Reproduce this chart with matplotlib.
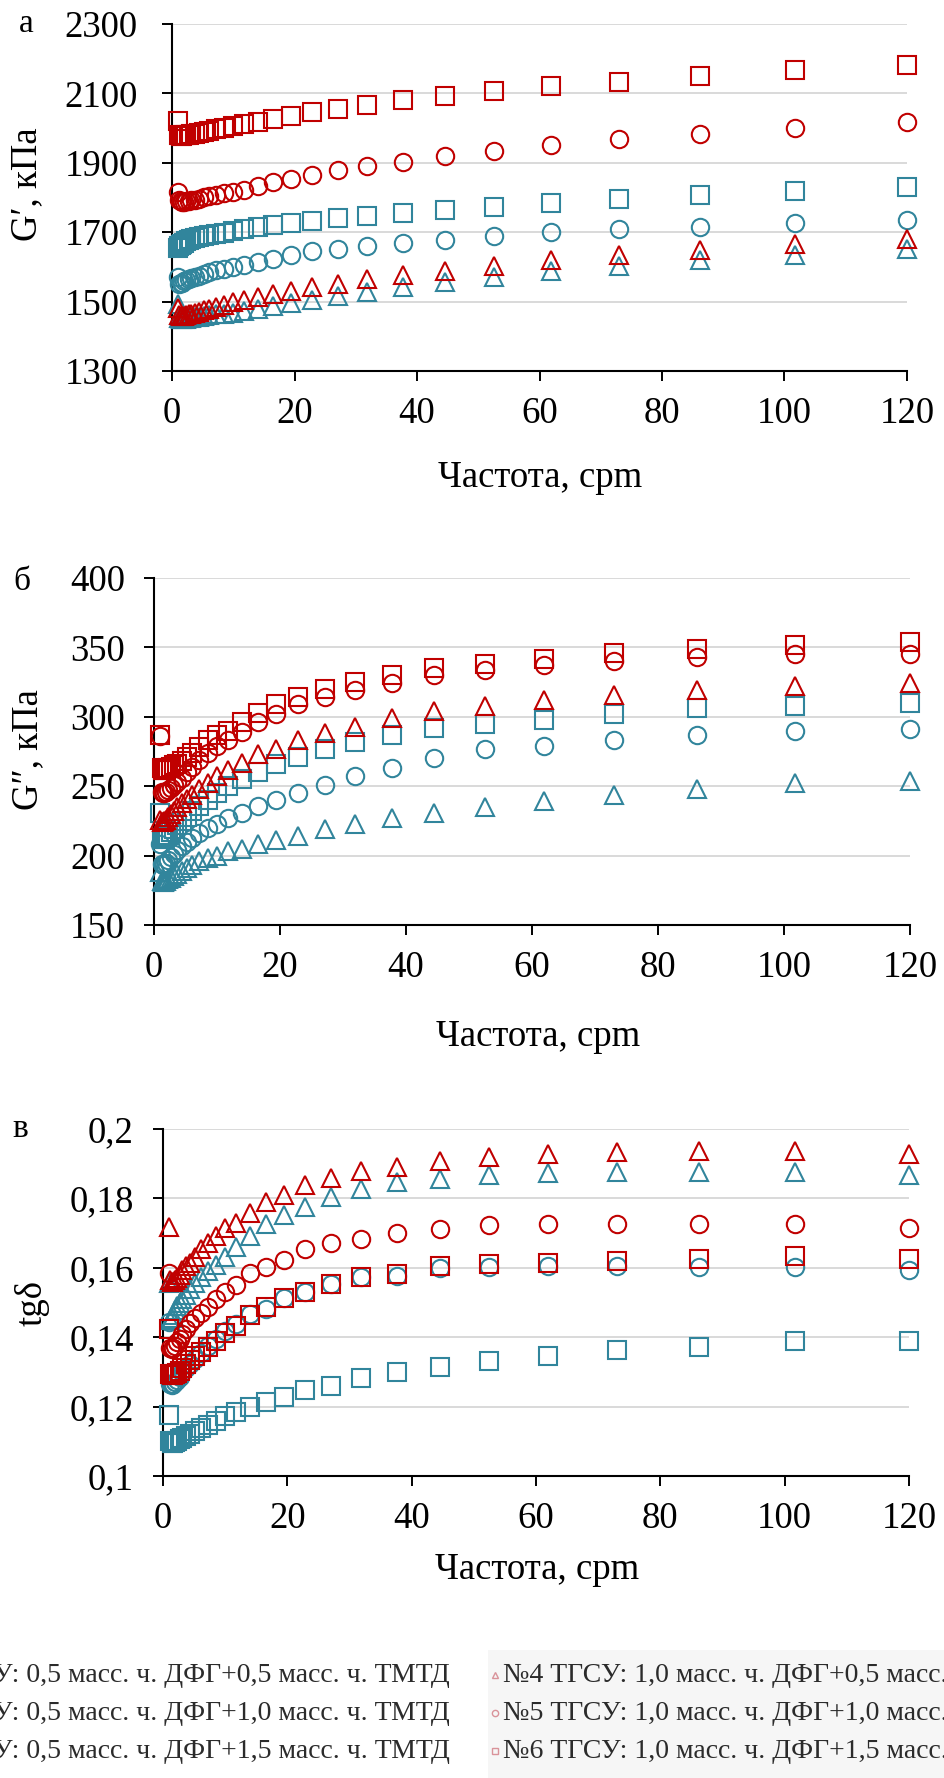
import matplotlib
matplotlib.use("Agg")
import matplotlib.pyplot as plt
from matplotlib.ticker import FuncFormatter

plt.rcParams['font.family'] = ['Liberation Serif', 'DejaVu Serif']

# Frequency sweep points, cpm
freq = [1.0, 1.2, 1.4, 1.6, 1.9, 2.3, 2.7, 3.1, 3.7, 4.4, 5.2, 6.1, 7.2, 8.5, 10.0,
        11.8, 14.0, 16.5, 19.4, 22.9, 27.1, 31.9, 37.7, 44.5, 52.5, 61.9, 73.0, 86.2, 101.7, 120.0]

# Storage modulus G', kPa
gp_1 = [1492, 1452, 1450, 1450, 1450, 1451, 1452, 1453, 1455, 1457, 1459, 1461, 1463, 1465, 1468,
        1473, 1480, 1487, 1495, 1506, 1516, 1528, 1543, 1557, 1570, 1588, 1604, 1620, 1635, 1651]
gp_2 = [1570, 1552, 1553, 1555, 1558, 1561, 1564, 1567, 1571, 1575, 1580, 1585, 1590, 1595, 1599,
        1606, 1615, 1623, 1633, 1645, 1653, 1661, 1668, 1677, 1688, 1701, 1709, 1716, 1727, 1736]
gp_3 = [1655, 1660, 1664, 1667, 1670, 1674, 1677, 1680, 1683, 1687, 1690, 1693, 1696, 1699, 1703,
        1709, 1716, 1721, 1727, 1733, 1740, 1747, 1755, 1764, 1774, 1785, 1796, 1807, 1819, 1830]
gp_4 = [1482, 1460, 1458, 1458, 1459, 1461, 1463, 1465, 1468, 1471, 1475, 1480, 1485, 1491, 1498,
        1506, 1514, 1522, 1531, 1541, 1551, 1564, 1576, 1589, 1602, 1619, 1633, 1650, 1667, 1681]
gp_5 = [1815, 1792, 1789, 1788, 1788, 1789, 1790, 1792, 1794, 1797, 1800, 1803, 1807, 1812, 1817,
        1823, 1834, 1844, 1852, 1865, 1878, 1890, 1903, 1919, 1934, 1951, 1968, 1984, 2001, 2017]
gp_6 = [2020, 1980, 1978, 1978, 1979, 1980, 1981, 1982, 1984, 1986, 1989, 1992, 1996, 2000, 2005,
        2011, 2018, 2027, 2035, 2045, 2056, 2067, 2080, 2092, 2107, 2120, 2134, 2150, 2166, 2182]

# Loss modulus G'', kPa
gpp_1 = [188, 182, 181, 181, 182, 183, 184, 185, 187, 189, 191, 193, 196, 198, 200,
         203, 205, 208, 211, 214, 219, 223, 227, 231, 235, 239, 244, 248, 252, 254]
gpp_2 = [208, 194, 193, 194, 195, 197, 199, 201, 204, 207, 210, 213, 216, 220, 223,
         227, 231, 236, 240, 245, 251, 257, 263, 270, 277, 279, 283, 287, 290, 291]
gpp_3 = [231, 212, 212, 213, 214, 215, 217, 219, 222, 225, 228, 232, 236, 240, 245,
         250, 255, 260, 266, 271, 277, 282, 287, 292, 295, 298, 302, 306, 308, 310]
gpp_4 = [226, 224, 224, 225, 226, 228, 230, 232, 235, 238, 241, 244, 248, 252, 257,
         262, 267, 273, 277, 283, 288, 293, 299, 304, 308, 312, 316, 319, 322, 324]
gpp_5 = [286, 246, 245, 245, 246, 247, 249, 251, 253, 256, 260, 264, 269, 274, 279,
         283, 289, 296, 302, 309, 314, 319, 324, 330, 334, 337, 340, 343, 345, 345]
gpp_6 = [287, 263, 262, 262, 262, 263, 264, 265, 266, 268, 271, 274, 278, 283, 287,
         290, 296, 303, 309, 314, 320, 325, 330, 335, 338, 342, 346, 349, 352, 354]

# Loss tangent tg delta
tan_1 = [0.1555, 0.1450, 0.1455, 0.1465, 0.1478, 0.1490, 0.1500, 0.1510, 0.1522, 0.1538,
         0.1555, 0.1573, 0.1590, 0.1607, 0.1630, 0.1660, 0.1692, 0.1725, 0.1752, 0.1776,
         0.1803, 0.1826, 0.1846, 0.1856, 0.1866, 0.1873, 0.1876, 0.1876, 0.1876, 0.1866]
tan_2 = [0.1444, 0.1265, 0.1262, 0.1265, 0.1270, 0.1278, 0.1286, 0.1300, 0.1310, 0.1324,
         0.1338, 0.1355, 0.1375, 0.1395, 0.1418, 0.1439, 0.1468, 0.1482, 0.1512, 0.1531,
         0.1553, 0.1574, 0.1577, 0.1598, 0.1603, 0.1605, 0.1605, 0.1603, 0.1602, 0.1595]
tan_3 = [0.1175, 0.1100, 0.1095, 0.1095, 0.1098, 0.1102, 0.1106, 0.1110, 0.1115, 0.1122,
         0.1130, 0.1137, 0.1146, 0.1158, 0.1172, 0.1185, 0.1199, 0.1213, 0.1228, 0.1249,
         0.1259, 0.1282, 0.1300, 0.1315, 0.1332, 0.1345, 0.1362, 0.1372, 0.1390, 0.1390]
tan_4 = [0.1718, 0.1565, 0.1560, 0.1560, 0.1565, 0.1572, 0.1580, 0.1593, 0.1605, 0.1615,
         0.1632, 0.1655, 0.1672, 0.1692, 0.1715, 0.1728, 0.1759, 0.1790, 0.1810, 0.1838,
         0.1858, 0.1879, 0.1891, 0.1909, 0.1920, 0.1928, 0.1935, 0.1936, 0.1936, 0.1928]
tan_5 = [0.1584, 0.1370, 0.1365, 0.1368, 0.1375, 0.1385, 0.1395, 0.1410, 0.1425, 0.1440,
         0.1455, 0.1470, 0.1488, 0.1510, 0.1530, 0.1550, 0.1584, 0.1603, 0.1622, 0.1653,
         0.1672, 0.1682, 0.1701, 0.1712, 0.1723, 0.1725, 0.1725, 0.1725, 0.1725, 0.1715]
tan_6 = [0.1425, 0.1295, 0.1290, 0.1290, 0.1293, 0.1298, 0.1304, 0.1312, 0.1322, 0.1334,
         0.1345, 0.1358, 0.1372, 0.1390, 0.1412, 0.1432, 0.1463, 0.1488, 0.1512, 0.1531,
         0.1552, 0.1574, 0.1582, 0.1606, 0.1611, 0.1615, 0.1620, 0.1625, 0.1633, 0.1625]

series_labels = [
    "№1 ТГСУ: 0,5 масс. ч. ДФГ+0,5 масс. ч. ТМТД",
    "№2 ТГСУ: 0,5 масс. ч. ДФГ+1,0 масс. ч. ТМТД",
    "№3 ТГСУ: 0,5 масс. ч. ДФГ+1,5 масс. ч. ТМТД",
    "№4 ТГСУ: 1,0 масс. ч. ДФГ+0,5 масс. ч. ТМТД",
    "№5 ТГСУ: 1,0 масс. ч. ДФГ+1,0 масс. ч. ТМТД",
    "№6 ТГСУ: 1,0 масс. ч. ДФГ+1,5 масс. ч. ТМТД",
]

x_ticks = [0, 20, 40, 60, 80, 100, 120]
x_label = "Частота, cpm"

BLUE = "#31859C"
RED = "#C00000"
colors = [BLUE, BLUE, BLUE, RED, RED, RED]
markers = ["^", "o", "s", "^", "o", "s"]

W, H = 944, 1778
fig = plt.figure(figsize=(W / 100, H / 100), dpi=100)


def fx(px):
    return px / W


def fy(py):
    return 1 - py / H


def make_axes(left, top, right, bottom):
    return fig.add_axes([fx(left), fy(bottom), (right - left) / W, (bottom - top) / H])


panels = [
    dict(box=(172, 24, 907, 371), data=[gp_1, gp_2, gp_3, gp_4, gp_5, gp_6],
         ylim=(1300, 2300), yticks=[1300, 1500, 1700, 1900, 2100, 2300],
         fmt=lambda v, p: f"{v:.0f}", ypad=17, tag="а", tag_xy=(26, 24),
         ylabel="G′, кПа", ylabel_xy=(27, 184), xlabel_xy=(540, 478)),
    dict(box=(154, 578, 910, 925), data=[gpp_1, gpp_2, gpp_3, gpp_4, gpp_5, gpp_6],
         ylim=(150, 400), yticks=[150, 200, 250, 300, 350, 400],
         fmt=lambda v, p: f"{v:.0f}", ypad=13.5, tag="б", tag_xy=(22, 582),
         ylabel="G″, кПа", ylabel_xy=(28, 750), xlabel_xy=(538, 1037)),
    dict(box=(163, 1129, 909, 1476), data=[tan_1, tan_2, tan_3, tan_4, tan_5, tan_6],
         ylim=(0.1, 0.2), yticks=[0.1, 0.12, 0.14, 0.16, 0.18, 0.2],
         fmt=lambda v, p: f"{v:.2f}".rstrip("0").replace(".", ","), ypad=13.5, tag="в",
         tag_xy=(20, 1129), ylabel="tgδ", ylabel_xy=(32, 1303), xlabel_xy=(537, 1570)),
]

FS = 26.5
for pn in panels:
    ax = make_axes(*pn["box"])
    for vals, c, m in zip(pn["data"], colors, markers):
        ax.plot(freq, vals, linestyle="none", marker=m, markersize=12.5,
                markerfacecolor="none", markeredgecolor=c, markeredgewidth=1.5,
                clip_on=False, zorder=3)
    ax.set_xlim(0, 120)
    ax.set_ylim(*pn["ylim"])
    ax.set_xticks(x_ticks)
    ax.set_yticks(pn["yticks"])
    ax.yaxis.set_major_formatter(FuncFormatter(pn["fmt"]))
    for s in ("top", "right"):
        ax.spines[s].set_visible(False)
    for s in ("left", "bottom"):
        ax.spines[s].set_linewidth(1.5)
        ax.spines[s].set_color("black")
    ax.grid(axis="y", color="#D9D9D9", linewidth=1.4)
    ax.set_axisbelow(True)
    ax.tick_params(axis="both", direction="out", length=7.5, width=1.4,
                   labelsize=FS, colors="black")
    ax.tick_params(axis="y", pad=pn["ypad"])
    ax.tick_params(axis="x", pad=11)
    tx, ty = pn["tag_xy"]
    fig.text(fx(tx), fy(ty), pn["tag"], fontsize=24, ha="center", va="center")
    lx, ly = pn["ylabel_xy"]
    fig.text(fx(lx), fy(ly), pn["ylabel"], fontsize=FS, rotation=90,
             ha="center", va="center")
    xx, xy = pn["xlabel_xy"]
    fig.text(fx(xx), fy(xy), x_label, fontsize=FS, ha="center", va="center")

# Legend block below the panels (wider than the figure, so it runs past both edges)
fig.patches.append(plt.Rectangle((fx(488), fy(1778)), (W - 488) / W, 128 / H,
                                 transform=fig.transFigure, facecolor="#F6F6F6",
                                 edgecolor="none", zorder=0))
rows_y = [1675, 1713, 1751]
LEG_FS = 20
leg_text_color = "#2b2b2b"
leg_mark_colors = ["#8fb8c4", "#8fb8c4", "#8fb8c4", "#d9939a", "#d9939a", "#d9939a"]
renderer = fig.canvas.get_renderer()
for i, lab in enumerate(series_labels):
    row = rows_y[i % 3]
    if i < 3:
        t = fig.text(fx(450), fy(row), lab, fontsize=LEG_FS, ha="right", va="center",
                     color=leg_text_color)
        bb = t.get_window_extent(renderer)
        mx = bb.x0 - 8
    else:
        fig.text(fx(503), fy(row), lab, fontsize=LEG_FS, ha="left", va="center",
                 color=leg_text_color)
        mx = 495
    fig.add_artist(plt.Line2D([fx(mx)], [fy(row)], transform=fig.transFigure,
                              marker=markers[i], markersize=4.5, linestyle="none",
                              markerfacecolor="none", markeredgecolor=leg_mark_colors[i],
                              markeredgewidth=1.0))

fig.savefig("out.png", dpi=100)
